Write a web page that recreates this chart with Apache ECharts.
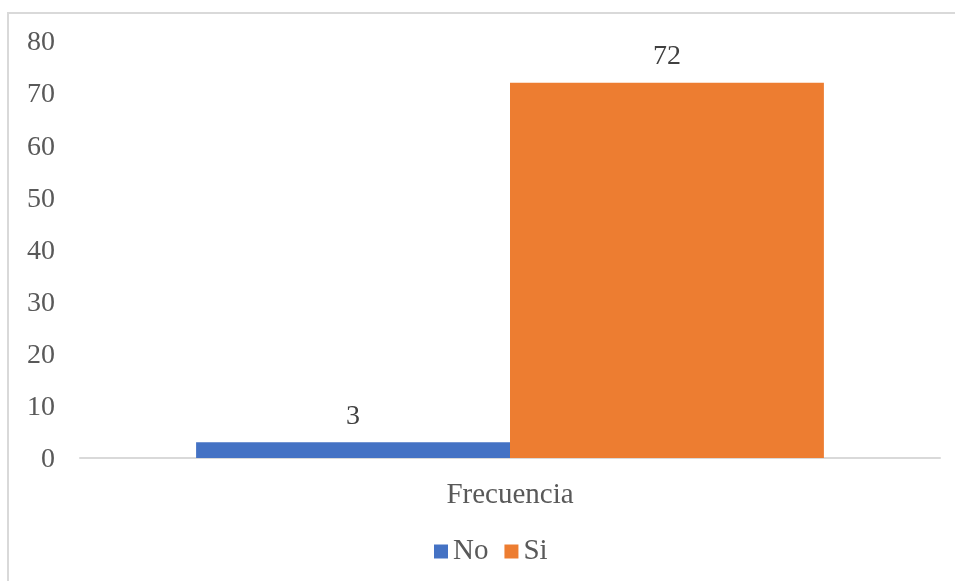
<!DOCTYPE html>
<html>
<head>
<meta charset="utf-8">
<style>
  html, body { margin: 0; padding: 0; background: #ffffff; }
  #chart { width: 955px; height: 581px; }
</style>
<script src="https://cdn.jsdelivr.net/npm/echarts@6/dist/echarts.min.js"></script>
</head>
<body>
<div id="chart"></div>
<script>
// Chart data
const categories = ['Frecuencia'];
const seriesNames = ['No', 'Si'];
const noValues = [3];
const siValues = [72];
const yTicks = { min: 0, max: 80, interval: 10 };

const FONT = '"Liberation Serif", "Times New Roman", serif';
const chart = echarts.init(document.getElementById('chart'), null, { renderer: 'canvas' });

const labelStyle = {
  show: true,
  position: 'top',
  distance: 12,
  color: '#404040',
  fontFamily: FONT,
  fontSize: 28
};

chart.setOption({
  backgroundColor: '#ffffff',
  animation: false,
  graphic: [{
    type: 'rect',
    shape: { x: 8, y: 13, width: 960, height: 600 },
    style: { fill: 'none', stroke: '#d9d9d9', lineWidth: 2 },
    silent: true
  }],
  grid: { left: 80, right: 15, top: 41, bottom: 123 },
  legend: {
    data: seriesNames,
    bottom: 10,
    left: 429,
    itemWidth: 14,
    itemHeight: 14,
    itemGap: 16,
    icon: 'rect',
    textStyle: { color: '#595959', fontFamily: FONT, fontSize: 29 }
  },
  xAxis: {
    type: 'category',
    data: categories,
    axisLine: { show: true, lineStyle: { color: '#d9d9d9', width: 2 } },
    axisTick: { show: false },
    axisLabel: { color: '#595959', fontFamily: FONT, fontSize: 29, margin: 23 }
  },
  yAxis: {
    type: 'value',
    min: yTicks.min,
    max: yTicks.max,
    interval: yTicks.interval,
    axisLine: { show: false },
    axisTick: { show: false },
    splitLine: { show: false },
    axisLabel: {
      color: '#595959', fontFamily: FONT, fontSize: 28, margin: 25,
      verticalAlign: 'top', lineHeight: 28, padding: [-12, 0, 0, 0]
    }
  },
  series: [
    {
      name: seriesNames[0],
      type: 'bar',
      data: noValues,
      barGap: '0%',
      barCategoryGap: '27%',
      itemStyle: { color: '#4472C4' },
      label: labelStyle
    },
    {
      name: seriesNames[1],
      type: 'bar',
      data: siValues,
      itemStyle: { color: '#ED7D31' },
      label: labelStyle
    }
  ]
});
</script>
</body>
</html>
